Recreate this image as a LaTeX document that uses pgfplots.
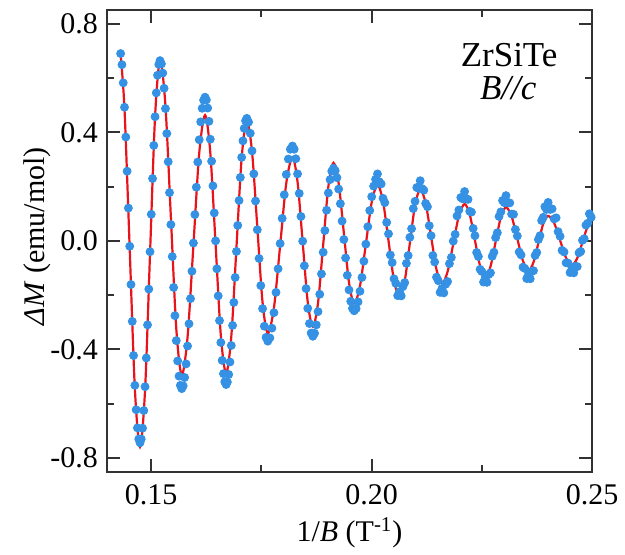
\documentclass[border=0pt]{standalone}
\usepackage{fontspec}
\setmainfont{Liberation Serif}
\usepackage{pgfplots}
\pgfplotsset{compat=1.18}
\definecolor{dotblue}{RGB}{52,145,228}
\definecolor{fitred}{RGB}{232,20,28}
\definecolor{axgray}{RGB}{50,50,50}
\newcommand{\lblfont}{\fontsize{15}{18}\selectfont}
\newcommand{\bigfont}{\fontsize{17.5}{21}\selectfont}
\begin{document}
\begin{tikzpicture}
\begin{axis}[
  scale only axis, width=242.5pt, height=230.85pt,
  xmin=0.14, xmax=0.25, ymin=-0.8517, ymax=0.8517,
  xtick={0.15,0.2,0.25}, xticklabels={0.15,0.20,0.25},
  ytick={-0.8,-0.4,0,0.4,0.8}, yticklabels={-0.8,-0.4,0.0,0.4,0.8},
  minor x tick num=1, minor y tick num=1,
  tick align=inside, major tick length=6.3pt, minor tick length=3.5pt,
  axis line style={axgray, line width=1pt},
  tick style={axgray, line width=1pt},
  tick label style={font=\lblfont},
  label style={font=\lblfont},
  xticklabel style={yshift=-3pt},
  yticklabel style={xshift=-1pt},
  xlabel={1/\textit{B} (T\textsuperscript{-1})},
  ylabel={\textit{ΔM} (emu/mol)},
  xlabel style={at={(axis description cs:0.5,-0.1516)}, anchor=base},
  ylabel style={at={(axis description cs:-0.1433,0.51)}, anchor=center},
]
% measured points
\addplot[only marks, color=dotblue, mark=*, mark size=2pt, mark options={fill=dotblue, draw=dotblue}] coordinates {
(0.14309,0.691) (0.14339,0.650) (0.14368,0.583) (0.14397,0.493) (0.14427,0.383) (0.14456,0.257) (0.14485,0.121) (0.14515,-0.020) (0.14544,-0.161) (0.14573,-0.297) (0.14602,-0.423) (0.14632,-0.533) (0.14661,-0.623) (0.14690,-0.690) (0.14720,-0.731)
(0.14749,-0.745) (0.14777,-0.731) (0.14806,-0.691) (0.14834,-0.626) (0.14863,-0.538) (0.14891,-0.432) (0.14919,-0.310) (0.14948,-0.178) (0.14976,-0.040) (0.15004,0.098) (0.15033,0.230) (0.15061,0.352) (0.15090,0.458) (0.15118,0.546) (0.15146,0.611) (0.15175,0.651)
(0.15203,0.665) (0.15234,0.653) (0.15265,0.619) (0.15295,0.563) (0.15326,0.488) (0.15357,0.396) (0.15388,0.292) (0.15418,0.178) (0.15449,0.060) (0.15480,-0.058) (0.15511,-0.172) (0.15541,-0.276) (0.15572,-0.368) (0.15603,-0.443) (0.15634,-0.499) (0.15664,-0.533)
(0.15695,-0.545) (0.15728,-0.535) (0.15761,-0.504) (0.15794,-0.454) (0.15827,-0.388) (0.15860,-0.306) (0.15894,-0.213) (0.15927,-0.112) (0.15960,-0.008) (0.15993,0.097) (0.16026,0.198) (0.16059,0.291) (0.16092,0.373) (0.16125,0.439) (0.16158,0.489) (0.16191,0.519)
(0.16224,0.530) (0.16254,0.520) (0.16284,0.490) (0.16313,0.441) (0.16343,0.375) (0.16373,0.294) (0.16403,0.203) (0.16433,0.103) (0.16463,0.000) (0.16492,-0.103) (0.16522,-0.203) (0.16552,-0.294) (0.16582,-0.375) (0.16612,-0.441) (0.16641,-0.490) (0.16671,-0.520)
(0.16701,-0.530) (0.16730,-0.521) (0.16760,-0.493) (0.16789,-0.447) (0.16819,-0.386) (0.16848,-0.312) (0.16877,-0.227) (0.16907,-0.135) (0.16936,-0.039) (0.16965,0.057) (0.16995,0.149) (0.17024,0.234) (0.17054,0.308) (0.17083,0.369) (0.17112,0.415) (0.17142,0.443)
(0.17171,0.452) (0.17211,0.438) (0.17250,0.397) (0.17290,0.332) (0.17330,0.247) (0.17369,0.147) (0.17409,0.041) (0.17449,-0.065) (0.17488,-0.165) (0.17528,-0.250) (0.17568,-0.315) (0.17607,-0.356)
(0.17647,-0.370) (0.17694,-0.358) (0.17740,-0.322) (0.17787,-0.265) (0.17833,-0.190) (0.17880,-0.103) (0.17927,-0.010) (0.17973,0.083) (0.18020,0.170) (0.18066,0.245) (0.18113,0.302) (0.18159,0.338)
(0.18206,0.350) (0.18245,0.338) (0.18283,0.303) (0.18322,0.247) (0.18360,0.175) (0.18399,0.090) (0.18438,-0.001) (0.18476,-0.092) (0.18515,-0.176) (0.18553,-0.249) (0.18592,-0.305) (0.18630,-0.340)
(0.18669,-0.352) (0.18708,-0.341) (0.18747,-0.310) (0.18786,-0.261) (0.18825,-0.197) (0.18864,-0.122) (0.18903,-0.042) (0.18942,0.038) (0.18981,0.113) (0.19020,0.177) (0.19059,0.226) (0.19098,0.257)
(0.19137,0.268) (0.19176,0.259) (0.19215,0.233) (0.19254,0.191) (0.19293,0.137) (0.19332,0.073) (0.19372,0.005) (0.19411,-0.063) (0.19450,-0.127) (0.19489,-0.181) (0.19528,-0.223) (0.19567,-0.249)
(0.19606,-0.258) (0.19650,-0.250) (0.19694,-0.225) (0.19738,-0.186) (0.19782,-0.135) (0.19826,-0.075) (0.19871,-0.012) (0.19915,0.052) (0.19959,0.112) (0.20003,0.163) (0.20047,0.202) (0.20091,0.227)
(0.20135,0.247) (0.20177,0.218) (0.20218,0.210) (0.20260,0.157) (0.20301,0.141) (0.20343,0.068) (0.20385,0.026) (0.20426,-0.052) (0.20468,-0.080) (0.20509,-0.140) (0.20551,-0.157) (0.20592,-0.202)
(0.20634,-0.188) (0.20673,-0.203) (0.20712,-0.169) (0.20752,-0.154) (0.20791,-0.083) (0.20830,-0.054) (0.20869,0.013) (0.20908,0.045) (0.20947,0.119) (0.20987,0.146) (0.21026,0.197) (0.21065,0.194)
(0.21104,0.222) (0.21145,0.193) (0.21186,0.187) (0.21227,0.138) (0.21268,0.126) (0.21309,0.056) (0.21350,0.019) (0.21391,-0.054) (0.21432,-0.078) (0.21473,-0.134) (0.21514,-0.147) (0.21555,-0.190)
(0.21596,-0.176) (0.21639,-0.192) (0.21682,-0.160) (0.21724,-0.150) (0.21767,-0.084) (0.21810,-0.061) (0.21853,-0.001) (0.21896,0.024) (0.21939,0.092) (0.21981,0.114) (0.22024,0.160) (0.22067,0.155)
(0.22110,0.182) (0.22149,0.155) (0.22188,0.153) (0.22227,0.109) (0.22266,0.106) (0.22305,0.046) (0.22345,0.019) (0.22384,-0.043) (0.22423,-0.058) (0.22462,-0.105) (0.22501,-0.113) (0.22540,-0.152)
(0.22579,-0.136) (0.22618,-0.153) (0.22657,-0.124) (0.22697,-0.118) (0.22736,-0.057) (0.22775,-0.042) (0.22814,0.012) (0.22853,0.030) (0.22892,0.090) (0.22932,0.107) (0.22971,0.149) (0.23010,0.141)
(0.23049,0.167) (0.23092,0.140) (0.23135,0.140) (0.23177,0.099) (0.23220,0.098) (0.23263,0.042) (0.23306,0.018) (0.23348,-0.041) (0.23391,-0.052) (0.23434,-0.097) (0.23477,-0.102) (0.23519,-0.139)
(0.23562,-0.123) (0.23599,-0.140) (0.23636,-0.113) (0.23673,-0.110) (0.23710,-0.054) (0.23747,-0.043) (0.23784,0.005) (0.23820,0.019) (0.23857,0.075) (0.23894,0.087) (0.23931,0.126) (0.23968,0.116)
(0.24005,0.142) (0.24050,0.116) (0.24095,0.118) (0.24141,0.081) (0.24186,0.085) (0.24231,0.034) (0.24276,0.017) (0.24321,-0.035) (0.24366,-0.041) (0.24412,-0.081) (0.24457,-0.082) (0.24502,-0.117)
(0.24547,-0.100) (0.24586,-0.118) (0.24626,-0.094) (0.24665,-0.095) (0.24705,-0.044) (0.24744,-0.039) (0.24784,0.002) (0.24823,0.008) (0.24862,0.058) (0.24902,0.065) (0.24941,0.100) (0.24981,0.087)
};
% fit
\addplot[fitred, line width=1.1pt, smooth] coordinates {
(0.14309,0.686) (0.14397,0.486) (0.14515,-0.030) (0.14632,-0.546)
(0.14749,-0.760) (0.14863,-0.551) (0.14976,-0.047) (0.15090,0.458)
(0.15203,0.667) (0.15326,0.497) (0.15449,0.086) (0.15572,-0.325)
(0.15695,-0.495) (0.15827,-0.355) (0.15960,-0.016) (0.16092,0.324)
(0.16224,0.464) (0.16343,0.325) (0.16463,-0.013) (0.16582,-0.350)
(0.16701,-0.489) (0.16819,-0.353) (0.16936,-0.024) (0.17054,0.306)
(0.17171,0.442) (0.17290,0.328) (0.17409,0.051) (0.17528,-0.227)
(0.17647,-0.341) (0.17787,-0.246) (0.17927,-0.017) (0.18066,0.213)
(0.18206,0.308) (0.18322,0.217) (0.18438,-0.005) (0.18553,-0.226)
(0.18669,-0.317) (0.18786,-0.229) (0.18903,-0.015) (0.19020,0.200)
(0.19137,0.288) (0.19254,0.212) (0.19372,0.029) (0.19489,-0.154)
(0.19606,-0.230) (0.19738,-0.166) (0.19871,-0.012) (0.20003,0.142)
(0.20135,0.206) (0.20260,0.146) (0.20385,0.000) (0.20509,-0.146)
(0.20634,-0.206) (0.20752,-0.148) (0.20869,-0.008) (0.20987,0.132)
(0.21104,0.190) (0.21227,0.139) (0.21350,0.017) (0.21473,-0.106)
(0.21596,-0.157) (0.21724,-0.114) (0.21853,-0.011) (0.21981,0.093)
(0.22110,0.136) (0.22227,0.097) (0.22345,0.002) (0.22462,-0.093)
(0.22579,-0.132) (0.22697,-0.095) (0.22814,-0.004) (0.22932,0.087)
(0.23049,0.124) (0.23177,0.090) (0.23306,0.008) (0.23434,-0.074)
(0.23562,-0.108) (0.23673,-0.079) (0.23784,-0.008) (0.23894,0.063)
(0.24005,0.092) (0.24141,0.066) (0.24276,0.002) (0.24412,-0.063)
(0.24547,-0.089) (0.24665,-0.064) (0.24784,-0.005) (0.24902,0.055)
(0.25000,0.079)
};
\node[anchor=base, font=\bigfont] at (axis cs:0.2312,0.643) {ZrSiTe};
\node[anchor=base, font=\bigfont] at (axis cs:0.2310,0.520) {\textit{B//c}};
\coordinate (bl) at (rel axis cs:0,0);
\coordinate (tr) at (rel axis cs:1,1);
\end{axis}
\path ([shift={(-53.5pt,-41.15pt)}]bl) rectangle ([shift={(16.5pt,5pt)}]tr);
\end{tikzpicture}
\end{document}
